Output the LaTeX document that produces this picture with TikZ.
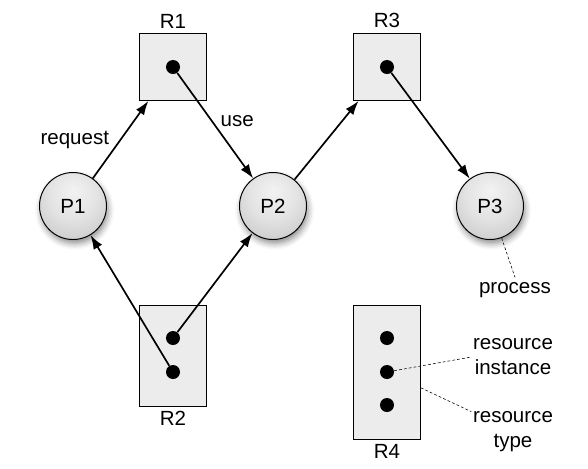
\documentclass[tikz,border=0pt]{standalone}
\usepackage{fontspec}
\setmainfont{Liberation Sans}
\usetikzlibrary{arrows, arrows.meta, shadows.blur, calc, positioning}
\pgfdeclareradialshading{procball}{\pgfpoint{0bp}{12bp}}{%
    color(0bp)=(gray!10); color(18bp)=(gray!22); color(40bp)=(gray!48); color(62bp)=(gray!85)}
\tikzset{
    proc/.style={circle, draw, line width=0.7pt, shading=procball, minimum size=1.675cm, inner sep=0pt,
        blur shadow={shadow xshift=0.4mm, shadow yshift=-1mm, shadow blur radius=1.5mm, shadow opacity=45}},
    resbox/.style={rectangle, draw, fill=gray!15, line width=0.6pt, minimum width=1.675cm, inner sep=0pt},
    inst/.style={circle, fill=black, inner sep=0pt, minimum size=0.35cm},
    reqEdge/.style={->, >={Latex[length=10pt, width=7pt]}, line width=1.2pt},
    noteLine/.style={thin, dash pattern=on 2pt off 1.5pt},
    notetext/.style={align=center, inner xsep=1pt},
}
\begin{document}
\begin{tikzpicture}[x=0.025cm, y=-0.025cm, font=\fontsize{14.6}{17.7}\selectfont]
        \useasboundingbox (0,0) rectangle (588,469);

        % resources
        \node[resbox, minimum height=1.675cm, label=above:R1] (R1) at (173,67) {};
        \node[inst] (i1) at (173,67) {};
        \node[resbox, minimum height=2.525cm, label=below:R2] (R2) at (173,355.5) {};
        \node[inst] (i2a) at (173,338) {};
        \node[inst] (i2b) at (173,372) {};
        \node[resbox, minimum height=1.675cm, label=above:R3] (R3) at (387,67) {};
        \node[inst] (i3) at (387,67) {};
        \node[resbox, minimum height=3.35cm, label=below:R4] (R4) at (387,372) {};
        \node[inst] (i4a) at (387,338) {};
        \node[inst] (i4b) at (387,372) {};
        \node[inst] (i4c) at (387,405) {};

        % processes
        \node[proc] (P1) at (73,206) {P1};
        \node[proc] (P2) at (273,206) {P2};
        \node[proc] (P3) at (490,206) {P3};

        % legend texts
        \node[notetext] (lproc) at (515,290) {process};
        \node[notetext] (linst) at (513,357) {resource\\instance};
        \node[notetext] (ltype) at (513,432) {resource\\type};

        \draw[reqEdge] (P1) -- node[midway, left=1.5mm] {request} (R1.234);
        \draw[reqEdge] (i1) -- node[midway, right, yshift=1.2mm] {use} (P2);
        \draw[reqEdge] (P2) -- (R3.230);
        \draw[reqEdge] (i3) -- (P3);
        \draw[reqEdge] (i2b) -- (P1);
        \draw[reqEdge] (i2a) -- (P2);

        \draw[noteLine] (P3.-70) -- (lproc.north);
        \draw[noteLine] (i4b) -- (linst.west);
        \draw[noteLine] (R4.-25) -- (ltype.154);

    \end{tikzpicture}
\end{document}
